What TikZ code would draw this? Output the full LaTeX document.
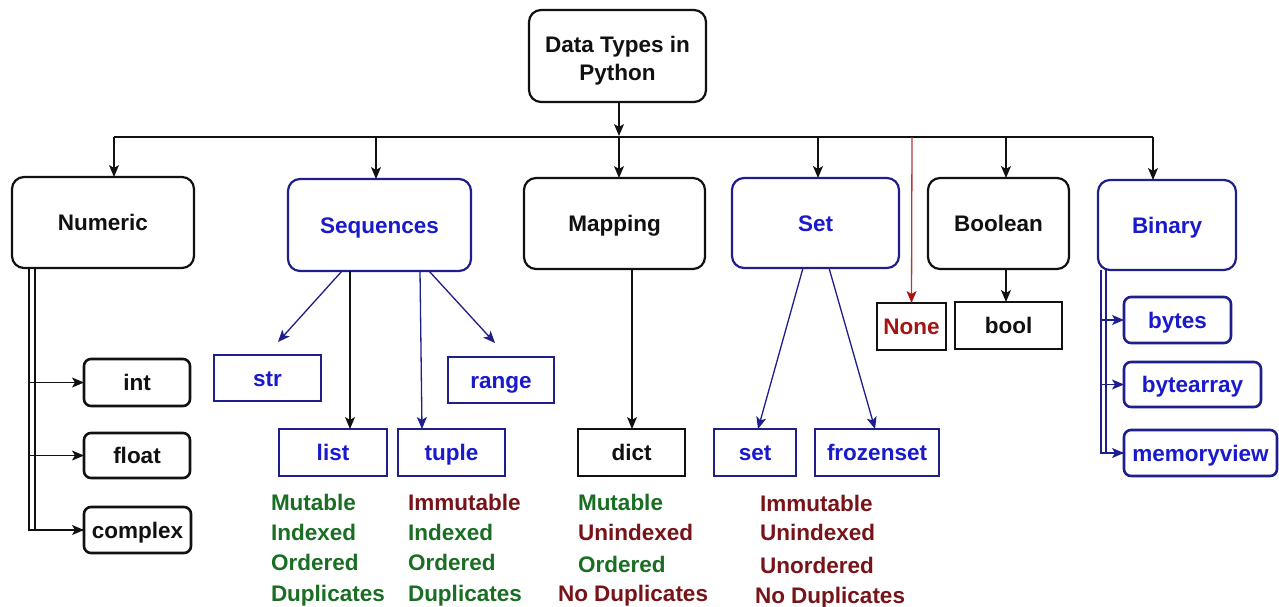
\documentclass[tikz,border=0pt]{standalone}
\usepackage{fontspec}
\setmainfont{Liberation Sans}
\usetikzlibrary{arrows.meta}
\definecolor{navy}{RGB}{30,30,140}
\definecolor{bluetxt}{RGB}{25,25,205}
\definecolor{okgreen}{RGB}{25,110,35}
\definecolor{darkred}{RGB}{120,20,25}
\definecolor{nonered}{RGB}{165,20,20}
\definecolor{redline}{RGB}{175,60,60}
\definecolor{ink}{RGB}{17,17,17}
\begin{document}
\begin{tikzpicture}[x=1pt,y=-1pt,
 every node/.style={font=\fontsize{22.5}{28}\selectfont\bfseries, inner sep=0pt, outer sep=0pt},
 txt/.style={text height=20pt, text depth=3.5pt},
 rootbox/.style={draw=ink, line width=2.2pt, rounded corners=12pt, text=ink},
 cat/.style={draw=ink, line width=2.2pt, rounded corners=12pt, text=ink, txt},
 catb/.style={cat, draw=navy, text=bluetxt},
 leafr/.style={draw=ink, line width=2.6pt, rounded corners=7pt, text=ink, txt},
 leafrb/.style={leafr, draw=navy, text=bluetxt},
 leafs/.style={draw=ink, line width=2.6pt, text=ink, txt},
 leafsb/.style={leafs, draw=navy, text=bluetxt},
 prop/.style={anchor=west, txt},
 tip/.style={-{Stealth[length=12pt,width=10pt,inset=3pt]}},
 plain/.style={line width=1.3pt, draw=ink},
 plainb/.style={line width=1.3pt, draw=navy},
 conn/.style={plain, tip},
 connb/.style={plainb, tip},
]
\useasboundingbox[fill=white] (0,0) rectangle (1279,606);

% root
\node[rootbox, minimum width=177pt, minimum height=92pt, align=center] (root) at (617.5,56)
  {\rule{0pt}{25pt}Data Types in\\Python};

% categories
\node[cat,  minimum width=182pt, minimum height=91pt] (num)  at (103,222.5)  {Numeric};
\node[catb, minimum width=183pt, minimum height=92pt] (seq)  at (379.5,225)  {Sequences};
\node[cat,  minimum width=181pt, minimum height=91pt] (map)  at (614.5,223.5) {Mapping};
\node[catb, minimum width=167pt, minimum height=90pt] (set)  at (815.5,223)  {Set};
\node[cat,  minimum width=141pt, minimum height=91pt] (bool) at (998.5,223.5) {Boolean};
\node[catb, minimum width=138pt, minimum height=90pt] (bin)  at (1167,225)   {Binary};

% numeric leaves
\node[leafr, minimum width=106pt, minimum height=47pt] (int)     at (137,382.5) {int};
\node[leafr, minimum width=106pt, minimum height=45pt] (float)   at (137,455.5) {float};
\node[leafr, minimum width=107pt, minimum height=46pt] (complex) at (137.5,530) {complex};

% sequences leaves
\node[leafsb, minimum width=107pt, minimum height=46pt] (str)   at (267.5,378) {str};
\node[leafsb, minimum width=106pt, minimum height=46pt] (range) at (501,380)   {range};
\node[leafsb, minimum width=108pt, minimum height=47pt] (list)  at (333,452.5) {list};
\node[leafsb, minimum width=107pt, minimum height=47pt] (tuple) at (451.5,452.5) {tuple};

% mapping leaf
\node[leafs, minimum width=107pt, minimum height=47pt] (dict) at (631.5,452.5) {dict};

% set leaves
\node[leafsb, minimum width=82pt,  minimum height=47pt] (setl) at (755,452.5) {set};
\node[leafsb, minimum width=124pt, minimum height=47pt] (fz)   at (877,452.5) {frozenset};

% none / bool
\node[leafs, minimum width=69pt, minimum height=47pt, text=nonered] (none) at (911.5,326.5) {None};
\node[leafs, minimum width=107pt, minimum height=47pt] (boolv) at (1008.5,325.5) {bool};

% binary leaves
\node[leafrb, minimum width=107pt, minimum height=46pt] (bytes) at (1177.5,320) {bytes};
\node[leafrb, minimum width=137pt, minimum height=45pt] (barr)  at (1192.5,384.5) {bytearray};
\node[leafrb, minimum width=153pt, minimum height=46pt] (mview) at (1200.5,453) {memoryview};

% properties
\node[prop, text=okgreen] (l1) at (271,502) {Mutable};
\node[prop, text=okgreen] (l2) at (271,532) {Indexed};
\node[prop, text=okgreen] (l3) at (271,562) {Ordered};
\node[prop, text=okgreen] (l4) at (271,593) {Duplicates};
\node[prop, text=darkred] (t1) at (408,502) {Immutable};
\node[prop, text=okgreen] (t2) at (408,532) {Indexed};
\node[prop, text=okgreen] (t3) at (408,562) {Ordered};
\node[prop, text=okgreen] (t4) at (408,593) {Duplicates};
\node[prop, text=okgreen] (d1) at (578,502) {Mutable};
\node[prop, text=darkred] (d2) at (578,532) {Unindexed};
\node[prop, text=okgreen] (d3) at (578,564) {Ordered};
\node[prop, text=darkred] (d4) at (558,593) {No Duplicates};
\node[prop, text=darkred] (s1) at (760,503) {Immutable};
\node[prop, text=darkred] (s2) at (760,532) {Unindexed};
\node[prop, text=darkred] (s3) at (760,565) {Unordered};
\node[prop, text=darkred] (s4) at (755,595) {No Duplicates};

% bus
\coordinate (b1) at (114,137);
\coordinate (b2) at (376,137);
\coordinate (b3) at (619,137);
\coordinate (b4) at (818,137);
\coordinate (b5) at (912,137);
\coordinate (b6) at (1006,137);
\coordinate (b7) at (1153,137);
\draw[plain] (b1) -- (b7);
\draw[conn] ([xshift=1.5pt]root.south) -- ([yshift=1pt]b3);
\draw[conn] (b1) -- (b1 |- num.north);
\draw[conn] (b2) -- (b2 |- seq.north);
\draw[conn] (b3) -- (b3 |- map.north);
\draw[conn] (b4) -- (b4 |- set.north);
\draw[conn] (b6) -- (b6 |- bool.north);
\draw[conn] (b7) -- (b7 |- bin.north);
\draw[line width=1.3pt, draw=redline, -{Stealth[length=12pt,width=10pt,inset=3pt,color=nonered]}] (b5) -- (none.north);

% numeric connectors
\draw[conn] ([xshift=17pt]num.south west) |- (complex.west);
\draw[plain] ([xshift=23pt]num.south west) |- (complex.west);
\draw[conn] ([xshift=-55pt]int.west) -- (int.west);
\draw[conn] ([xshift=-55pt]float.west) -- (float.west);

% sequences connectors
\draw[connb] ([xshift=-37.5pt]seq.south) -- ([xshift=10.5pt,yshift=13pt]str.north);
\draw[conn]  ([xshift=-29.5pt]seq.south) -- ([xshift=17pt]list.north);
\draw[connb] ([xshift=40.5pt]seq.south) -- ([xshift=-29.5pt]tuple.north);
\draw[connb] ([xshift=49.5pt]seq.south) -- ([xshift=-6pt,yshift=14pt]range.north);

% mapping
\draw[conn] ([xshift=17.5pt]map.south) -- ([xshift=0.5pt]dict.north);

% set
\draw[connb] ([xshift=-12.5pt]set.south) -- ([xshift=3pt]setl.north);
\draw[connb] ([xshift=13.5pt]set.south) -- ([xshift=-2pt]fz.north);

% boolean
\draw[conn] ([xshift=7.5pt]bool.south) -- ([xshift=-2.5pt]boolv.north);

% binary
\draw[connb] ([xshift=3pt]bin.south west) |- (mview.west);
\draw[plainb] ([xshift=8pt]bin.south west) |- (mview.west);
\draw[connb] ([xshift=-23pt]bytes.west) -- (bytes.west);
\draw[connb] ([xshift=-23pt]barr.west) -- (barr.west);
\end{tikzpicture}
\end{document}
